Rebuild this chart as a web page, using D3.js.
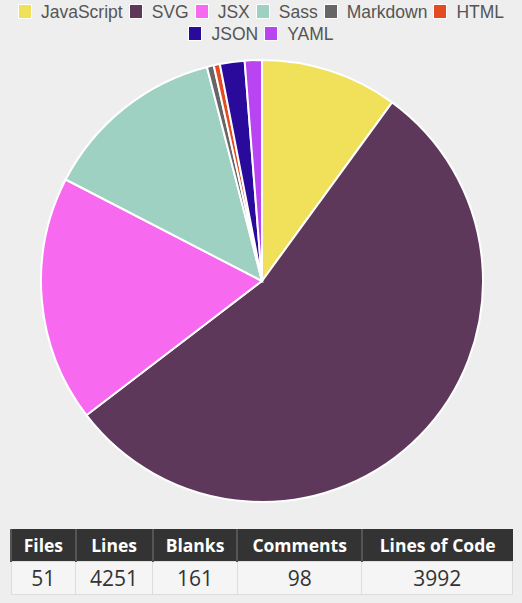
<!DOCTYPE html>
<html>
<head>
<meta charset="utf-8">
<script src="https://cdn.jsdelivr.net/npm/d3@7"></script>
<style>
  body { margin: 0; background: #eeeeee; width: 522px; height: 603px; overflow: hidden; }
  #legend { position: absolute; left: 0; top: 1px; width: 522px; text-align: center;
    font-family: "Liberation Sans", Arial, sans-serif; font-size: 17.5px; color: #555; line-height: 22px; }
  .item { display: inline-block; margin: 0 3px; white-space: nowrap; }
  .sw { display: inline-block; width: 12px; height: 13px; border: 1px solid #fff; vertical-align: -1px; margin-right: 9px; }
  svg { position: absolute; left: 0; top: 0; }
  table { position: absolute; left: 10px; top: 529px; border-collapse: collapse; width: 503px;
    table-layout: fixed; font-family: "Open Sans", Lato, sans-serif; }
  th { background: #333; color: #fff; font-weight: 700; font-size: 17.5px; height: 32px; padding: 0;
    border-left: 2px solid #555; }
  td { background: #f5f5f5; color: #333; font-size: 21px; text-align: center; height: 32px; padding: 0;
    border: 1px solid #ddd; }
</style>
</head>
<body>
<div id="legend"></div>
<svg id="chart" width="522" height="603"></svg>
<table id="stats"></table>
<script>
const languages = ["JavaScript", "SVG", "JSX", "Sass", "Markdown", "HTML", "JSON", "YAML"];
const linesOfCode = [400, 2180, 718, 535, 20, 18, 72, 50];
const colors = ["#f1e05a", "#5e385a", "#f76af0", "#9fd1c3", "#666666", "#e44b23", "#2a0a9a", "#b844f2"];
const statHeaders = ["Files", "Lines", "Blanks", "Comments", "Lines of Code"];
const statValues = [51, 4251, 161, 98, 3992];
const colWidths = [62, 74, 82, 121, 148];

const color = d3.scaleOrdinal().domain(languages).range(colors);

// legend
const leg = d3.select("#legend");
languages.forEach((name, i) => {
  const it = leg.append("span").attr("class", "item");
  it.append("span").attr("class", "sw").style("background", color(name));
  it.append("span").text(name);
  if (i === 5) leg.append("br");
});

// pie
const cx = 262, cy = 281, r = 221;
const data = languages.map((name, i) => ({ name, value: linesOfCode[i] }));
const pie = d3.pie().sort(null).value(d => d.value);
const arc = d3.arc().innerRadius(0).outerRadius(r);

d3.select("#chart").append("g")
  .attr("transform", "translate(" + cx + "," + cy + ")")
  .selectAll("path")
  .data(pie(data))
  .join("path")
  .attr("d", arc)
  .attr("fill", d => color(d.data.name))
  .attr("stroke", "#fff")
  .attr("stroke-width", 2);

// table
const table = d3.select("#stats");
table.append("tr").selectAll("th").data(statHeaders).join("th")
  .style("width", (d, i) => colWidths[i] + "px")
  .text(d => d);
table.append("tr").selectAll("td").data(statValues).join("td").text(d => d);
</script>
</body>
</html>
